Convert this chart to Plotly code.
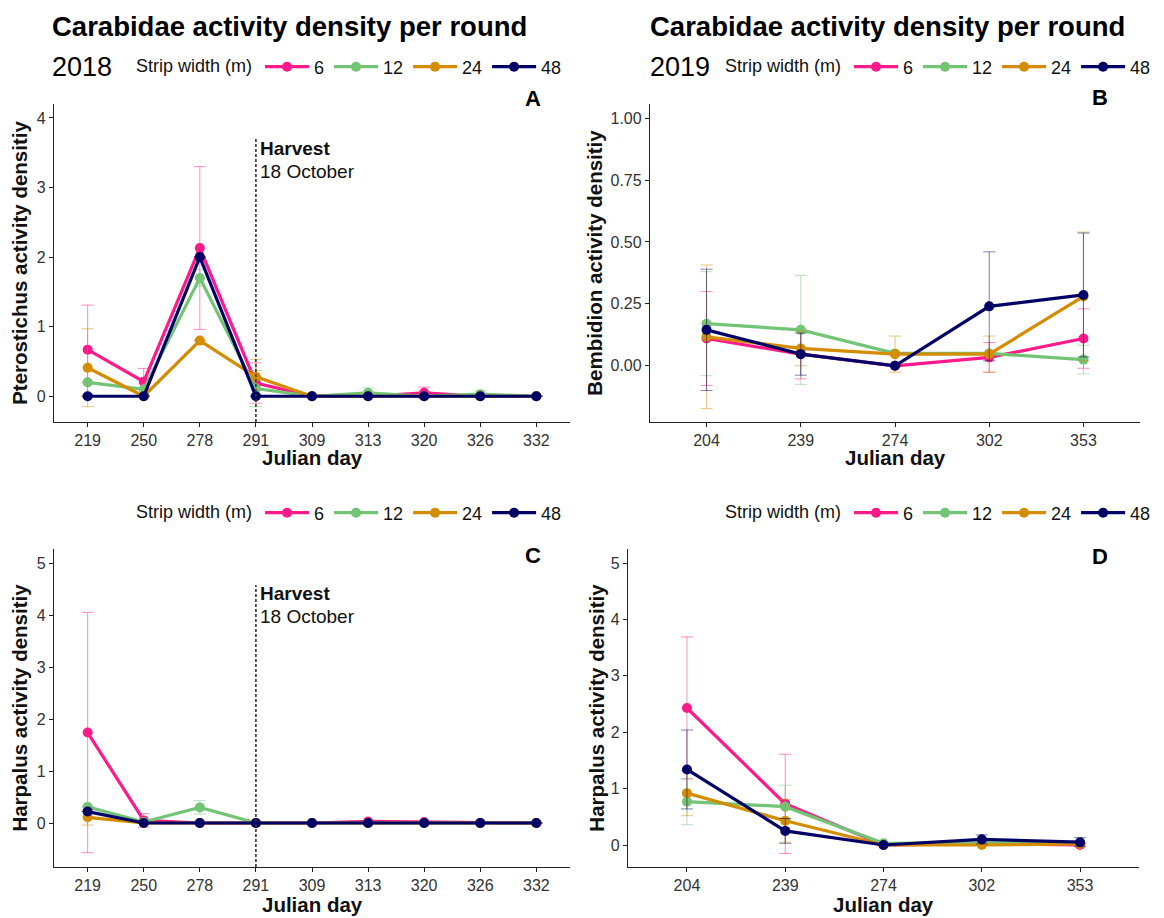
import plotly.graph_objects as go

# ---------------- data ----------------
days_2018 = ["219", "250", "278", "291", "309", "313", "320", "326", "332"]
days_2019 = ["204", "239", "274", "302", "353"]
harvest_day = "291"
strip_widths = ["6", "12", "24", "48"]
colors = ["#FF1A8C", "#74C476", "#D48C00", "#000066"]

# Panel A: Pterostichus 2018 (mean, error)
pter18_6 = [0.67, 0.21, 2.13, 0.19, 0, 0, 0.05, 0, 0]
pter18_6_err = [0.64, 0.19, 1.17, 0.29, 0, 0, 0.08, 0, 0]
pter18_12 = [0.20, 0.10, 1.70, 0.11, 0, 0.05, 0, 0.03, 0]
pter18_12_err = [0, 0, 0.12, 0.26, 0, 0.07, 0, 0.05, 0]
pter18_24 = [0.41, 0.0, 0.80, 0.28, 0, 0, 0, 0, 0]
pter18_24_err = [0.56, 0, 0, 0.25, 0, 0, 0, 0, 0]
pter18_48 = [0, 0, 2.00, 0, 0, 0, 0, 0, 0]
pter18_48_err = [0, 0, 0, 0, 0, 0, 0, 0, 0]

# Panel B: Bembidion 2019
bemb19_6 = [0.11, 0.047, 0.0, 0.034, 0.11]
bemb19_6_err = [0.19, 0.10, 0, 0.06, 0.12]
bemb19_12 = [0.17, 0.145, 0.05, 0.05, 0.025]
bemb19_12_err = [0.21, 0.22, 0, 0, 0.058]
bemb19_24 = [0.117, 0.07, 0.047, 0.047, 0.28]
bemb19_24_err = [0.29, 0.07, 0.073, 0.073, 0.26]
bemb19_48 = [0.145, 0.047, 0.0, 0.24, 0.286]
bemb19_48_err = [0.245, 0.085, 0, 0.22, 0.25]

# Panel C: Harpalus 2018
harp18_6 = [1.74, 0.05, 0, 0, 0, 0.03, 0.02, 0, 0]
harp18_6_err = [2.31, 0.13, 0, 0, 0, 0, 0, 0, 0]
harp18_12 = [0.31, 0.02, 0.30, 0, 0, 0, 0, 0, 0]
harp18_12_err = [0, 0, 0.13, 0, 0, 0, 0, 0, 0]
harp18_24 = [0.11, 0, 0, 0, 0, 0, 0, 0, 0]
harp18_24_err = [0.15, 0, 0, 0, 0, 0, 0, 0, 0]
harp18_48 = [0.22, 0, 0, 0, 0, 0, 0, 0, 0]
harp18_48_err = [0, 0, 0, 0, 0, 0, 0, 0, 0]

# Panel D: Harpalus 2019
harp19_6 = [2.43, 0.73, 0.0, 0.02, 0.0]
harp19_6_err = [1.26, 0.88, 0, 0, 0]
harp19_12 = [0.77, 0.68, 0.03, 0.03, 0.04]
harp19_12_err = [0.41, 0.38, 0, 0, 0]
harp19_24 = [0.92, 0.43, 0.0, 0.0, 0.02]
harp19_24_err = [0.40, 0.38, 0, 0, 0]
harp19_48 = [1.34, 0.25, 0.0, 0.10, 0.05]
harp19_48_err = [0.70, 0.22, 0, 0.08, 0.08]

# ---------------- layout helpers ----------------
OFF = 8                      # page body margin of the browser
W, H = 1164 - 2 * OFF, 918 - OFF
FONT = "Liberation Sans, Arial, sans-serif"


def px_x(p):
    return (p - OFF) / W


def px_y(p):
    return 1 - (p - OFF) / H


def rgba(hexc, a):
    h = hexc.lstrip("#")
    r, g, b = int(h[0:2], 16), int(h[2:4], 16), int(h[4:6], 16)
    return f"rgba({r},{g},{b},{a})"


fig = go.Figure()

panels = [
    dict(x="x", y="y", legend="legend", days=days_2018,
         series=[(pter18_6, pter18_6_err), (pter18_12, pter18_12_err),
                 (pter18_24, pter18_24_err), (pter18_48, pter18_48_err)]),
    dict(x="x2", y="y2", legend="legend2", days=days_2019,
         series=[(bemb19_6, bemb19_6_err), (bemb19_12, bemb19_12_err),
                 (bemb19_24, bemb19_24_err), (bemb19_48, bemb19_48_err)]),
    dict(x="x3", y="y3", legend="legend3", days=days_2018,
         series=[(harp18_6, harp18_6_err), (harp18_12, harp18_12_err),
                 (harp18_24, harp18_24_err), (harp18_48, harp18_48_err)]),
    dict(x="x4", y="y4", legend="legend4", days=days_2019,
         series=[(harp19_6, harp19_6_err), (harp19_12, harp19_12_err),
                 (harp19_24, harp19_24_err), (harp19_48, harp19_48_err)]),
]

for p in panels:
    for name, col, (vals, errs) in zip(strip_widths, colors, p["series"]):
        fig.add_trace(go.Scatter(
            x=p["days"], y=vals, name=name, mode="lines+markers",
            xaxis=p["x"], yaxis=p["y"], legend=p["legend"],
            line=dict(color=col, width=3.2),
            marker=dict(color=col, size=10),
            error_y=dict(type="data", array=errs, visible=True,
                         color=rgba(col, 0.5), thickness=1, width=6),
            showlegend=True,
        ))

xaxis_common = dict(
    type="category", showline=True, linecolor="#222", linewidth=1.3,
    ticks="outside", ticklen=4, tickcolor="#222", tickwidth=1.2,
    showgrid=False, zeroline=False, mirror=False,
    tickfont=dict(family=FONT, size=16, color="#333"),
)
yaxis_common = dict(
    showline=True, linecolor="#222", linewidth=1.3,
    ticks="outside", ticklen=4, tickcolor="#222", tickwidth=1.2,
    showgrid=False, zeroline=False, mirror=False,
    tickfont=dict(family=FONT, size=16, color="#333"),
)


def ytitle(text, standoff):
    return dict(text=f"<b>{text}</b>", font=dict(family=FONT, size=20.5, color="#111"),
                standoff=standoff)


# pixel geometry of the panels (reference pixel coordinates)
A_px = (54, 570)
B_px = (650, 1140)
C_px = A_px
D_px = (628, 1139)
A_x = [px_x(A_px[0]), px_x(A_px[1])]
B_x = [px_x(B_px[0]), px_x(B_px[1])]
C_x = A_x
D_x = [px_x(D_px[0]), px_x(D_px[1])]
top_y = [px_y(422), px_y(104)]
bot_y = [px_y(867), px_y(549)]

n18 = len(days_2018)
n19 = len(days_2019)

fig.update_layout(
    width=W, height=H,
    margin=dict(l=0, r=0, t=0, b=0),
    paper_bgcolor="white", plot_bgcolor="white",
    font=dict(family=FONT, color="#111"),
    xaxis=dict(xaxis_common, domain=A_x, anchor="y", range=[-0.6, n18 - 0.4]),
    yaxis=dict(yaxis_common, domain=top_y, anchor="x", range=[-0.37, 4.2],
               tickvals=[0, 1, 2, 3, 4], title=ytitle("Pterostichus activity densitiy", 3)),
    xaxis2=dict(xaxis_common, domain=B_x, anchor="y2", range=[-0.6, n19 - 0.4]),
    yaxis2=dict(yaxis_common, domain=top_y, anchor="x2", range=[-0.227, 1.057],
                tickvals=[0, 0.25, 0.5, 0.75, 1.0], tickformat=".2f",
                title=ytitle("Bembidion activity densitiy", 2)),
    xaxis3=dict(xaxis_common, domain=C_x, anchor="y3", range=[-0.6, n18 - 0.4]),
    yaxis3=dict(yaxis_common, domain=bot_y, anchor="x3", range=[-0.846, 5.27],
                tickvals=[0, 1, 2, 3, 4, 5], title=ytitle("Harpalus activity densitiy", 3)),
    xaxis4=dict(xaxis_common, domain=D_x, anchor="y4", range=[-0.6, n19 - 0.4]),
    yaxis4=dict(yaxis_common, domain=bot_y, anchor="x4", range=[-0.39, 5.25],
                tickvals=[0, 1, 2, 3, 4, 5], title=ytitle("Harpalus activity densitiy", 0)),
)

legend_common = dict(
    orientation="h", yanchor="middle",
    title=dict(text="Strip width (m)", side="left", font=dict(family=FONT, size=18, color="#111")),
    font=dict(family=FONT, size=18, color="#111"),
    itemwidth=44, bgcolor="rgba(0,0,0,0)", borderwidth=0,
    itemclick=False, itemdoubleclick=False,
)
fig.update_layout(
    legend=dict(legend_common, x=px_x(134), xanchor="left", y=px_y(67)),
    legend2=dict(legend_common, x=1.0, xanchor="right", y=px_y(67)),
    legend3=dict(legend_common, x=px_x(134), xanchor="left", y=px_y(513)),
    legend4=dict(legend_common, x=1.0, xanchor="right", y=px_y(513)),
)

# Harvest reference lines (panels A and C)
h_idx = days_2018.index(harvest_day)
fig.add_shape(type="line", xref="x", yref="y", x0=h_idx, x1=h_idx, y0=-0.37, y1=3.7,
              line=dict(color="#333", width=1.6, dash="3px,2px"))
fig.add_shape(type="line", xref="x3", yref="y3", x0=h_idx, x1=h_idx, y0=-0.846, y1=4.58,
              line=dict(color="#333", width=1.6, dash="3px,2px"))

ann = []
for xr, yr, yh, yo in [("x", "y", 3.56, 3.23), ("x3", "y3", 4.42, 3.98)]:
    ann.append(dict(x=h_idx, y=yh, xref=xr, yref=yr, text="<b>Harvest</b>", showarrow=False,
                    xanchor="left", yanchor="middle", xshift=2,
                    font=dict(family=FONT, size=19, color="#111")))
    ann.append(dict(x=h_idx, y=yo, xref=xr, yref=yr, text="18 October", showarrow=False,
                    xanchor="left", yanchor="middle", xshift=2,
                    font=dict(family=FONT, size=19, color="#111")))

# x axis titles
for (x0, x1), yc in [(A_px, 457), (B_px, 457), (C_px, 904), (D_px, 904)]:
    ann.append(dict(x=px_x((x0 + x1) / 2), y=px_y(yc), xref="paper", yref="paper",
                    text="<b>Julian day</b>", showarrow=False, xanchor="center", yanchor="middle",
                    font=dict(family=FONT, size=20.5, color="#111")))

# titles
for x0, year in [(50, "2018"), (648, "2019")]:
    ann.append(dict(x=px_x(x0), y=px_y(26), xref="paper", yref="paper",
                    text="<b>Carabidae activity density per round</b>", showarrow=False,
                    xanchor="left", yanchor="middle",
                    font=dict(family=FONT, size=27.5, color="#000")))
    ann.append(dict(x=px_x(x0), y=px_y(67), xref="paper", yref="paper",
                    text=year, showarrow=False, xanchor="left", yanchor="middle",
                    font=dict(family=FONT, size=27, color="#000")))

# panel letters
for lab, xp, yp in [("A", 533, 99), ("B", 1100, 98), ("C", 533, 555), ("D", 1100, 556)]:
    ann.append(dict(x=px_x(xp), y=px_y(yp), xref="paper", yref="paper", text=f"<b>{lab}</b>",
                    showarrow=False, xanchor="center", yanchor="middle",
                    font=dict(family=FONT, size=22, color="#000")))

fig.update_layout(annotations=ann)

fig.write_html("out.html")
